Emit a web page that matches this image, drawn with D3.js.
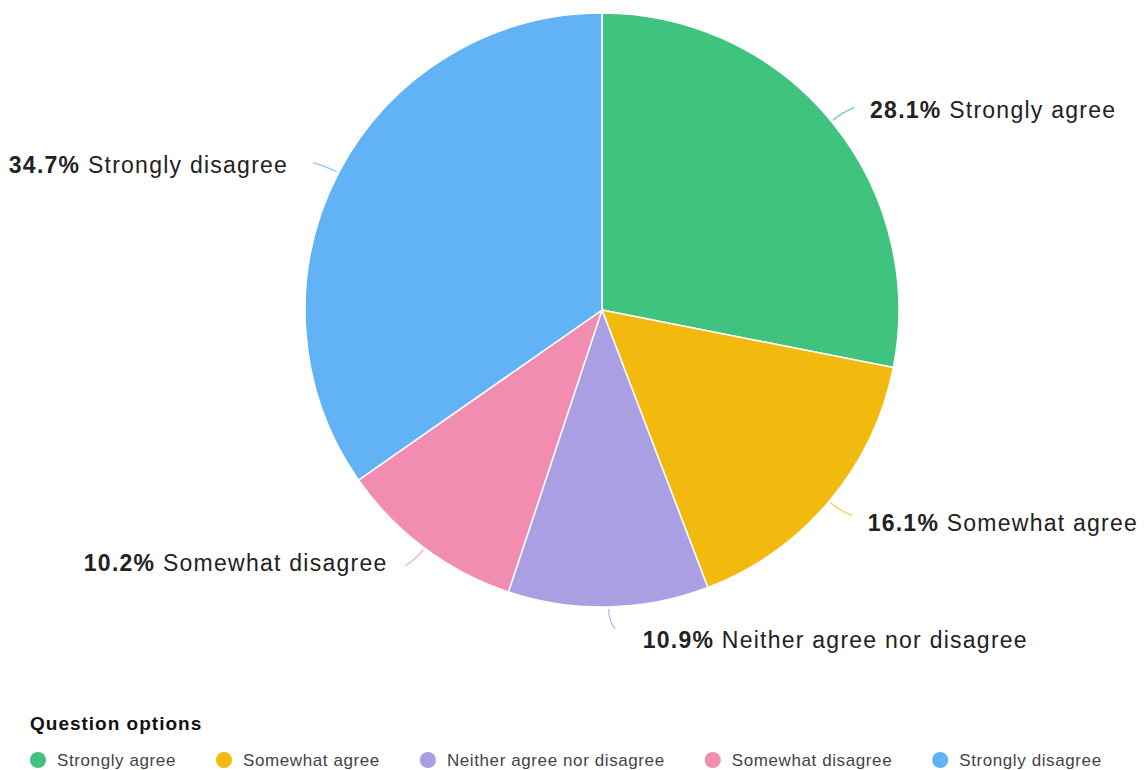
<!DOCTYPE html>
<html><head><meta charset="utf-8">
<script src="https://cdn.jsdelivr.net/npm/d3@7"></script>
<style>
html,body{margin:0;padding:0;background:#fff;}
svg{display:block;font-family:"Liberation Sans",Arial,sans-serif;}
</style></head>
<body>
<svg id="chart" width="1144" height="770"></svg>
<script>
const categories = ["Strongly agree","Somewhat agree","Neither agree nor disagree","Somewhat disagree","Strongly disagree"];
const values = [28.1, 16.1, 10.9, 10.2, 34.7];
const colors = ["#40c37f","#f2b90f","#ab9fe4","#f18db1","#62b3f5"];
const legendTitle = "Question options";

const svg = d3.select("#chart");
const cx = 602, cy = 310, R = 297;

const color = d3.scaleOrdinal().domain(categories).range(colors);
const data = categories.map((c,i)=>({name:c, value:values[i]}));
const pie = d3.pie().value(d=>d.value).sort(null);
const arcs = pie(data);
const arc = d3.arc().innerRadius(0).outerRadius(R);

const g = svg.append("g").attr("transform",`translate(${cx},${cy})`);
g.selectAll("path.slice").data(arcs).join("path")
  .attr("class","slice")
  .attr("d",arc)
  .attr("fill",d=>color(d.data.name))
  .attr("stroke","#fff").attr("stroke-width",1.5);

// connectors and labels
const pt = (a,r)=>[Math.sin(a)*r, -Math.cos(a)*r];
arcs.forEach(d=>{
  const a = (d.startAngle+d.endAngle)/2;
  const s = Math.sin(a), c = Math.cos(a);
  const right = s >= 0;
  const p0 = pt(a,R+2), p1 = pt(a,R+14), p2 = pt(a,R+22);
  const ex = p2[0] + (right?6:-6);
  const path = d3.path();
  path.moveTo(p0[0],p0[1]);
  path.quadraticCurveTo(p1[0],p1[1],ex,p2[1]);
  g.append("path").attr("d",path.toString())
    .attr("fill","none").attr("stroke",color(d.data.name))
    .attr("stroke-width",1.3).attr("opacity",0.75);
  const down = Math.max(0,-c);
  const off = right ? 18 + 16*(1-Math.abs(s)) : 31 - 9*down;
  const tx = p2[0] + (right?off:-off);
  const ty = p2[1] + 2 + (right?9:-6)*down;
  const t = g.append("text")
    .attr("x",tx).attr("y",ty)
    .attr("dy","0.35em")
    .attr("text-anchor",right?"start":"end")
    .attr("font-size",23).attr("letter-spacing",1.25).attr("fill","#222");
  t.append("tspan").attr("font-weight","bold").text(d3.format(".1f")(d.data.value)+"%");
  t.append("tspan").text(" "+d.data.name);
});

// legend
svg.append("text").attr("x",30).attr("y",723).attr("dy","0.35em")
  .attr("font-size",19).attr("letter-spacing",1.0).attr("font-weight","bold").attr("fill","#111").text(legendTitle);
let lx = 38;
categories.forEach(c=>{
  const item = svg.append("g");
  item.append("circle").attr("cx",lx).attr("cy",760).attr("r",8).attr("fill",color(c));
  const t = item.append("text").attr("x",lx+19).attr("y",760).attr("dy","0.35em")
    .attr("font-size",17).attr("letter-spacing",0.6).attr("fill","#444").text(c);
  lx += 19 + t.node().getComputedTextLength() + 48;
});
</script>
</body></html>
